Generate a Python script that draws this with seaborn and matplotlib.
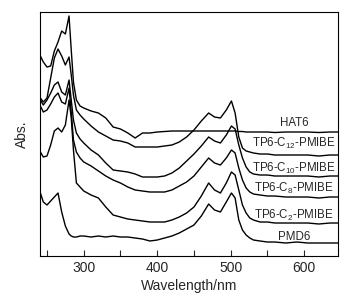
import numpy as np
import pandas as pd
import matplotlib
matplotlib.use('Agg')
import matplotlib.pyplot as plt
from matplotlib.ticker import MultipleLocator
import seaborn as sns

# Comprimentos de onda (nm)
wavelength = [241, 245, 250, 255, 260, 265, 270, 275, 280, 283, 286, 290, 295, 300,
              310, 320, 330, 340, 350, 360, 370, 380, 390, 400, 410, 420, 430, 440,
              450, 460, 470, 478, 486, 494, 501, 506, 511, 516, 521, 526, 531, 540,
              550, 560, 575, 590, 605, 620, 635, 646]

# Absorbancia (unidades arbitrarias, curvas deslocadas)
hat6 = [2.00, 1.94, 1.89, 1.90, 2.05, 2.14, 2.25, 2.22, 2.40, 2.06,
        1.74, 1.56, 1.50, 1.48, 1.45, 1.43, 1.38, 1.29, 1.27, 1.23,
        1.18, 1.23, 1.23, 1.24, 1.245, 1.25, 1.25, 1.25, 1.25, 1.25,
        1.25, 1.25, 1.25, 1.25, 1.25, 1.25, 1.245, 1.245, 1.24, 1.24,
        1.24, 1.24, 1.24, 1.235, 1.24, 1.24, 1.24, 1.235, 1.24, 1.24]
c12 = [1.58, 1.54, 1.58, 1.78, 1.98, 2.07, 2.00, 1.91, 1.99, 1.81,
       1.61, 1.46, 1.41, 1.37, 1.30, 1.24, 1.20, 1.16, 1.15, 1.13,
       1.09, 1.09, 1.09, 1.09, 1.10, 1.11, 1.14, 1.19, 1.26, 1.35,
       1.43, 1.39, 1.38, 1.46, 1.55, 1.43, 1.19, 1.08, 1.05, 1.04,
       1.03, 1.02, 1.02, 1.01, 1.01, 1.01, 1.01, 1.00, 1.01, 1.01]
c10 = [1.56, 1.51, 1.56, 1.63, 1.71, 1.74, 1.64, 1.61, 1.76, 1.56,
       1.36, 1.23, 1.17, 1.13, 1.06, 1.01, 0.93, 0.86, 0.85, 0.84,
       0.82, 0.79, 0.79, 0.79, 0.80, 0.83, 0.88, 0.95, 1.02, 1.10,
       1.19, 1.15, 1.13, 1.21, 1.30, 1.27, 1.11, 0.98, 0.89, 0.84,
       0.82, 0.81, 0.81, 0.80, 0.80, 0.80, 0.80, 0.79, 0.80, 0.80]
c8 = [1.50, 1.44, 1.46, 1.52, 1.59, 1.63, 1.54, 1.52, 1.68, 1.44,
      1.16, 1.04, 0.98, 0.94, 0.90, 0.85, 0.80, 0.76, 0.73, 0.69,
      0.66, 0.65, 0.64, 0.64, 0.64, 0.66, 0.70, 0.74, 0.80, 0.89,
      0.98, 0.93, 0.91, 0.98, 1.06, 1.03, 0.88, 0.76, 0.68, 0.64,
      0.62, 0.61, 0.60, 0.60, 0.59, 0.59, 0.59, 0.58, 0.59, 0.59]
c2 = [1.04, 0.99, 1.00, 1.11, 1.25, 1.28, 1.24, 1.31, 1.56, 1.38,
      1.06, 0.73, 0.69, 0.65, 0.61, 0.58, 0.49, 0.41, 0.39, 0.37,
      0.36, 0.35, 0.34, 0.34, 0.34, 0.36, 0.39, 0.43, 0.49, 0.60,
      0.73, 0.66, 0.63, 0.73, 0.84, 0.81, 0.66, 0.51, 0.43, 0.38,
      0.36, 0.34, 0.34, 0.33, 0.33, 0.33, 0.33, 0.32, 0.33, 0.33]
pmd6 = [0.63, 0.54, 0.51, 0.55, 0.59, 0.63, 0.44, 0.30, 0.22, 0.20,
        0.19, 0.19, 0.20, 0.20, 0.19, 0.20, 0.19, 0.20, 0.19, 0.19,
        0.18, 0.17, 0.15, 0.16, 0.18, 0.20, 0.23, 0.27, 0.31, 0.40,
        0.52, 0.46, 0.44, 0.54, 0.63, 0.58, 0.36, 0.26, 0.21, 0.18,
        0.16, 0.15, 0.14, 0.14, 0.13, 0.14, 0.13, 0.13, 0.13, 0.13]

labels = ['HAT6', 'TP6-C$_{12}$-PMIBE', 'TP6-C$_{10}$-PMIBE',
          'TP6-C$_{8}$-PMIBE', 'TP6-C$_{2}$-PMIBE', 'PMD6']
series = [hat6, c12, c10, c8, c2, pmd6]

sns.set_style('ticks')
plt.rcParams['font.family'] = ['Liberation Sans', 'DejaVu Sans']
plt.rcParams['mathtext.fontset'] = 'custom'
plt.rcParams['mathtext.rm'] = 'Liberation Sans'
plt.rcParams['mathtext.default'] = 'rm'

fig = plt.figure(figsize=(3.56, 3.07), dpi=100)
fig.subplots_adjust(left=0.1124, right=0.9494, top=0.9609, bottom=0.1661)
ax = fig.add_subplot(111)

for vals in series:
    sns.lineplot(x=wavelength, y=vals, color='black', linewidth=1.0, ax=ax)

# Rotulos das curvas
label_y = [1.33, 1.13, 0.88, 0.68, 0.41, 0.19]
for lab, ly in zip(labels, label_y):
    ax.text(586, ly, lab, ha='center', va='center', fontsize=8.3)

ax.set_xlim(240.5, 646)
ax.set_ylim(0, 2.44)
ax.xaxis.set_major_locator(MultipleLocator(100))
ax.xaxis.set_minor_locator(MultipleLocator(50))
ax.tick_params(axis='x', which='both', direction='in', length=4, width=0.8,
               labelsize=10, top=False)
ax.set_yticks([])
for sp in ax.spines.values():
    sp.set_visible(True)
    sp.set_linewidth(0.8)
    sp.set_color('black')

ax.set_xlabel('Wavelength/nm', fontsize=10, labelpad=3)
ax.set_ylabel('Abs.', fontsize=10, labelpad=8)

fig.savefig('out.png', dpi=100)
